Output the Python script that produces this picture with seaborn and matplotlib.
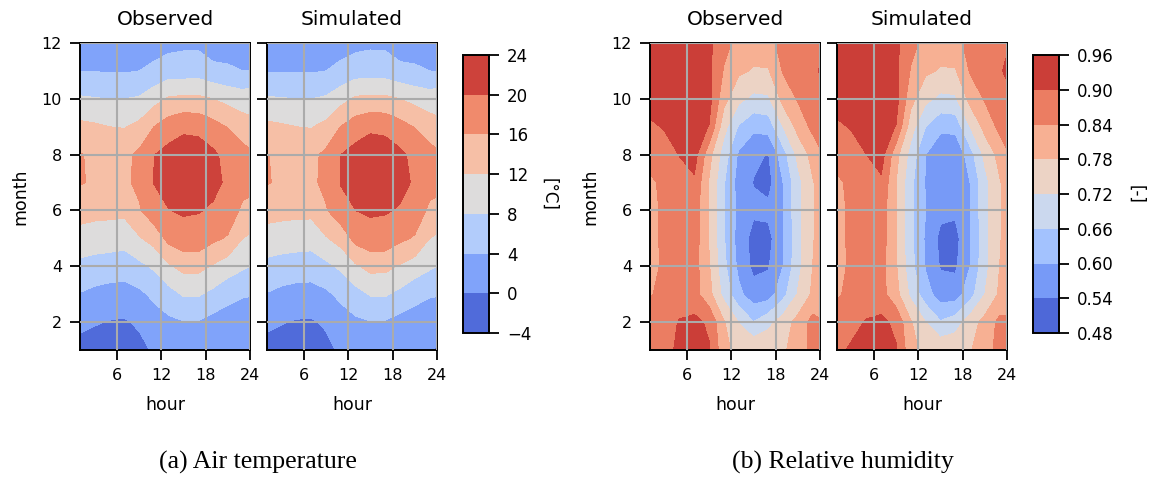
import numpy as np
import matplotlib
matplotlib.use("Agg")
import matplotlib.pyplot as plt
import seaborn as sns

# grid of the monthly mean diurnal cycle (rows = month 1..12, columns = hour)
hours = [1, 3, 5, 7, 9, 11, 13, 15, 17, 19, 21, 23, 24]
months = [1, 2, 3, 4, 5, 6, 7, 8, 9, 10, 11, 12]

temp_levels = [-4, 0, 4, 8, 12, 16, 20, 24]
rh_levels = [0.48, 0.54, 0.60, 0.66, 0.72, 0.78, 0.84, 0.90, 0.96]

temp_obs = [
    [-1.5, -1.8, -1.8, -1.6, -1.2, 0.5, 1.5, 1.2, 1.2, 1.2, 1.0, 0.5, -0.3],
    [1.0, 0.3, -0.2, -0.4, 0.6, 2.2, 3.2, 3.8, 3.8, 2.6, 2.2, 2.0, 1.8],
    [3.8, 3.0, 2.6, 2.4, 3.2, 4.8, 6.5, 8.4, 8.4, 7.0, 5.2, 4.3, 4.2],
    [6.9, 6.5, 6.0, 5.8, 7.0, 8.6, 11.5, 13.2, 13.2, 11.6, 10.0, 8.6, 8.0],
    [10.5, 10.0, 10.0, 9.6, 11.6, 13.5, 17.2, 18.5, 18.5, 16.8, 15.6, 12.0, 11.4],
    [13.5, 13.2, 13.0, 12.9, 15.6, 18.5, 19.9, 20.4, 20.2, 19.6, 18.5, 15.2, 15.0],
    [16.3, 15.5, 15.2, 15.3, 16.8, 20.1, 21.5, 22.5, 22.3, 20.8, 19.5, 17.5, 17.0],
    [16.2, 15.4, 15.0, 15.0, 16.8, 19.9, 21.3, 22.0, 21.8, 20.7, 18.8, 17.4, 16.8],
    [13.0, 12.6, 12.0, 11.8, 13.0, 16.0, 18.0, 19.2, 19.0, 17.4, 15.8, 14.0, 13.0],
    [8.5, 8.2, 8.0, 8.0, 8.4, 10.5, 12.5, 12.8, 12.8, 12.0, 10.8, 10.0, 10.5],
    [3.9, 3.9, 3.7, 3.7, 4.0, 4.8, 6.0, 6.0, 6.2, 5.0, 4.5, 4.0, 4.0],
    [2.5, 2.3, 2.0, 2.0, 2.4, 2.5, 2.8, 3.2, 3.2, 2.0, 2.5, 2.0, 1.8],
]

temp_sim = [
    [-1.6, -1.9, -1.8, -1.7, -1.0, 0.6, 1.5, 1.3, 1.2, 1.1, 1.0, 0.4, -0.4],
    [0.9, 0.2, -0.3, -0.4, 0.5, 2.2, 3.3, 3.8, 3.7, 2.6, 2.2, 2.0, 1.8],
    [3.8, 3.0, 2.6, 2.5, 3.3, 4.9, 6.6, 8.3, 8.4, 7.0, 5.3, 4.3, 4.2],
    [6.9, 6.4, 6.0, 5.9, 7.1, 8.7, 11.5, 13.2, 13.1, 11.6, 10.1, 8.6, 8.0],
    [10.4, 10.0, 9.9, 9.7, 11.7, 13.6, 17.3, 18.5, 18.4, 16.8, 15.6, 12.0, 11.4],
    [13.4, 13.2, 13.0, 13.0, 15.7, 18.6, 20.0, 20.5, 20.3, 19.7, 18.5, 15.2, 15.0],
    [16.2, 15.5, 15.2, 15.3, 16.9, 20.2, 21.6, 22.6, 22.4, 20.9, 19.6, 17.5, 17.0],
    [16.1, 15.4, 15.0, 15.0, 16.9, 20.0, 21.4, 22.1, 21.9, 20.8, 18.9, 17.4, 16.8],
    [12.9, 12.5, 12.0, 11.8, 13.1, 16.1, 18.1, 19.3, 19.0, 17.4, 15.8, 14.0, 13.0],
    [8.4, 8.2, 8.0, 8.0, 8.5, 10.6, 12.6, 12.9, 12.8, 12.0, 10.8, 10.0, 10.4],
    [3.8, 3.8, 3.7, 3.7, 4.0, 4.9, 6.1, 6.1, 6.1, 5.0, 4.5, 4.0, 3.9],
    [2.4, 2.3, 2.0, 2.0, 2.5, 2.6, 2.9, 3.3, 3.2, 2.0, 2.5, 2.0, 1.8],
]

rh_obs = [
    [0.86, 0.885, 0.91, 0.92, 0.905, 0.80, 0.755, 0.77, 0.775, 0.77, 0.81, 0.855, 0.865],
    [0.86, 0.87, 0.905, 0.915, 0.89, 0.785, 0.718, 0.662, 0.70, 0.75, 0.80, 0.86, 0.845],
    [0.836, 0.855, 0.86, 0.86, 0.80, 0.70, 0.615, 0.565, 0.57, 0.64, 0.725, 0.79, 0.81],
    [0.815, 0.855, 0.865, 0.865, 0.785, 0.675, 0.585, 0.525, 0.535, 0.60, 0.70, 0.78, 0.80],
    [0.81, 0.86, 0.87, 0.87, 0.775, 0.665, 0.575, 0.52, 0.52, 0.595, 0.70, 0.775, 0.80],
    [0.81, 0.86, 0.87, 0.87, 0.775, 0.665, 0.585, 0.55, 0.555, 0.60, 0.70, 0.775, 0.80],
    [0.825, 0.86, 0.875, 0.89, 0.775, 0.665, 0.575, 0.538, 0.52, 0.60, 0.70, 0.775, 0.80],
    [0.87, 0.875, 0.902, 0.925, 0.80, 0.69, 0.59, 0.55, 0.537, 0.635, 0.735, 0.80, 0.835],
    [0.89, 0.905, 0.92, 0.92, 0.898, 0.74, 0.655, 0.615, 0.625, 0.72, 0.80, 0.855, 0.86],
    [0.925, 0.925, 0.93, 0.925, 0.92, 0.80, 0.735, 0.705, 0.71, 0.80, 0.845, 0.87, 0.87],
    [0.93, 0.935, 0.935, 0.93, 0.915, 0.835, 0.79, 0.775, 0.775, 0.845, 0.87, 0.885, 0.905],
    [0.93, 0.935, 0.94, 0.93, 0.91, 0.86, 0.82, 0.805, 0.82, 0.86, 0.87, 0.875, 0.88],
]

rh_sim = [
    [0.885, 0.91, 0.915, 0.92, 0.905, 0.80, 0.76, 0.765, 0.77, 0.775, 0.815, 0.86, 0.87],
    [0.865, 0.88, 0.905, 0.915, 0.885, 0.785, 0.72, 0.665, 0.69, 0.75, 0.80, 0.855, 0.85],
    [0.833, 0.855, 0.86, 0.86, 0.80, 0.705, 0.625, 0.57, 0.57, 0.635, 0.72, 0.79, 0.81],
    [0.815, 0.855, 0.865, 0.86, 0.785, 0.68, 0.595, 0.535, 0.53, 0.60, 0.70, 0.78, 0.80],
    [0.81, 0.86, 0.87, 0.87, 0.78, 0.675, 0.59, 0.525, 0.52, 0.595, 0.70, 0.775, 0.80],
    [0.81, 0.86, 0.87, 0.87, 0.78, 0.675, 0.60, 0.555, 0.55, 0.60, 0.70, 0.775, 0.80],
    [0.825, 0.86, 0.875, 0.89, 0.78, 0.675, 0.595, 0.55, 0.545, 0.60, 0.70, 0.775, 0.80],
    [0.87, 0.875, 0.90, 0.925, 0.80, 0.695, 0.60, 0.555, 0.545, 0.635, 0.735, 0.80, 0.835],
    [0.89, 0.905, 0.92, 0.92, 0.898, 0.745, 0.66, 0.615, 0.62, 0.72, 0.80, 0.855, 0.865],
    [0.925, 0.925, 0.93, 0.925, 0.92, 0.80, 0.735, 0.705, 0.71, 0.80, 0.845, 0.87, 0.875],
    [0.93, 0.935, 0.935, 0.93, 0.915, 0.835, 0.79, 0.775, 0.775, 0.845, 0.87, 0.89, 0.915],
    [0.93, 0.935, 0.94, 0.93, 0.91, 0.86, 0.82, 0.805, 0.82, 0.86, 0.87, 0.875, 0.89],
]

sns.set_style("ticks", {"axes.edgecolor": "black", "text.color": "black",
                        "axes.labelcolor": "black", "xtick.color": "black",
                        "ytick.color": "black"})
plt.rcParams["font.family"] = ["DejaVu Sans"]
cmap = sns.color_palette("coolwarm", as_cmap=True)

W, H = 1156, 479
fig = plt.figure(figsize=(W / 100, H / 100), dpi=100)


def box(left, top, right, bottom):
    # pixel box -> figure fraction rect
    return [left / W, 1 - bottom / H, (right - left) / W, (bottom - top) / H]


def panel(rect, data, levels, title, show_y):
    ax = fig.add_axes(rect)
    cs = ax.contourf(hours, months, np.array(data), levels=levels, cmap=cmap)
    ax.set_xticks([6, 12, 18, 24])
    ax.set_yticks([2, 4, 6, 8, 10, 12])
    ax.set_axisbelow(False)
    ax.grid(True, color="#ababab", linewidth=1.5)
    ax.tick_params(direction="out", length=7, width=1.3, pad=6, labelsize=11.5)
    for s in ax.spines.values():
        s.set_linewidth(1.4)
    ax.set_title(title, fontsize=14.5, pad=13)
    ax.set_xlabel("hour", fontsize=12.5, labelpad=9)
    if show_y:
        ax.set_ylabel("month", fontsize=12.5, labelpad=9)
    else:
        ax.set_yticklabels([])
    return cs


def colorbar(cs, rect, ticks, labels, label, pad):
    cax = fig.add_axes(rect)
    cb = fig.colorbar(cs, cax=cax, ticks=ticks)
    cb.ax.set_yticklabels(labels)
    cb.ax.tick_params(direction="out", length=7, width=1.3, pad=6, labelsize=12)
    cb.outline.set_linewidth(1.4)
    cb.set_label(label, rotation=270, fontsize=12, labelpad=pad)
    return cb


# (a) air temperature
cs = panel(box(80, 43, 250, 350), temp_obs, temp_levels, "Observed", True)
panel(box(267, 43, 437, 350), temp_sim, temp_levels, "Simulated", False)
colorbar(cs, box(463, 55, 489, 333), temp_levels,
         [f"{v:d}".replace("-", "\u2212") for v in temp_levels], "[\u00b0C]", 19)

# (b) relative humidity
cs = panel(box(650, 43, 820, 350), rh_obs, rh_levels, "Observed", True)
panel(box(837, 43, 1007, 350), rh_sim, rh_levels, "Simulated", False)
colorbar(cs, box(1033, 55, 1059, 333), rh_levels,
         [f"{v:.2f}" for v in rh_levels], "[-]", 22)

fig.text(258 / W, 1 - 462 / H, "(a) Air temperature", ha="center", va="center",
         fontsize=18.5, family=["Liberation Serif", "DejaVu Serif"])
fig.text(843 / W, 1 - 462 / H, "(b) Relative humidity", ha="center", va="center",
         fontsize=18.5, family=["Liberation Serif", "DejaVu Serif"])

fig.savefig("out.png", dpi=100)
